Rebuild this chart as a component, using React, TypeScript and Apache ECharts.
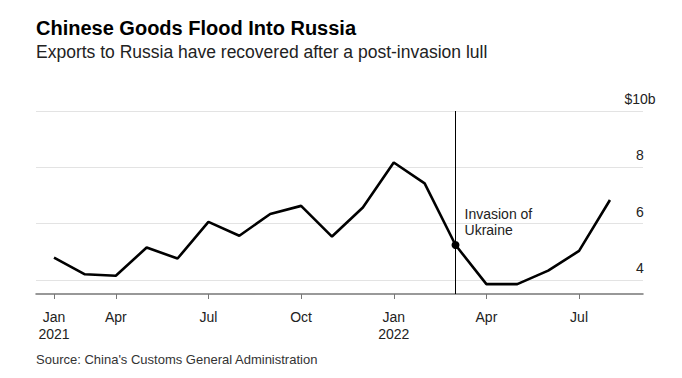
import React, { useEffect, useRef } from "react";
import * as echarts from "echarts";

const months = [
  "Jan 2021", "Mar 2021", "Apr 2021", "May 2021", "Jun 2021", "Jul 2021",
  "Aug 2021", "Sep 2021", "Oct 2021", "Nov 2021", "Dec 2021", "Jan 2022",
  "Feb 2022", "Mar 2022", "Apr 2022", "May 2022", "Jun 2022", "Jul 2022", "Aug 2022",
];
const exportsBn = [
  4.79, 4.2, 4.15, 5.15, 4.76, 6.06, 5.57, 6.34, 6.63, 5.54, 6.57, 8.17,
  7.43, 5.24, 3.85, 3.85, 4.33, 5.03, 6.84,
];
const tickIndices = [0, 2, 5, 8, 11, 14, 17];
const tickLabels = ["Jan\n2021", "Apr", "Jul", "Oct", "Jan\n2022", "Apr", "Jul"];
const yTicks = [4, 6, 8, 10];
const invasionIndex = 13;
const invasionLabel = "Invasion of\nUkraine";

const FONT = "'Liberation Sans', Arial, sans-serif";

export default function App() {
  const ref = useRef<HTMLDivElement>(null);
  useEffect(() => {
    if (!ref.current) return;
    const chart = echarts.init(ref.current, null, { renderer: "svg" });
    const data = exportsBn.map((v, i) => [i, v]);
    chart.setOption({
      animation: false,
      backgroundColor: "#ffffff",
      textStyle: { fontFamily: FONT },
      title: [
        {
          text: "Chinese Goods Flood Into Russia",
          left: 36,
          top: 16,
          padding: 0,
          textStyle: { fontFamily: FONT, fontSize: 20, fontWeight: "bold", color: "#000", lineHeight: 24 },
        },
        {
          text: "Exports to Russia have recovered after a post-invasion lull",
          left: 36,
          top: 41,
          padding: 0,
          textStyle: { fontFamily: FONT, fontSize: 17.5, fontWeight: "normal", color: "#222", lineHeight: 22 },
        },
        {
          text: "Source: China's Customs General Administration",
          left: 36,
          top: 351,
          padding: 0,
          textStyle: { fontFamily: FONT, fontSize: 13, fontWeight: "normal", color: "#333", lineHeight: 16 },
        },
      ],
      grid: { left: 36, right: 39, top: 111, bottom: 84 },
      xAxis: {
        type: "value",
        min: -0.583,
        max: 19.07,
        splitLine: { show: false },
        axisLine: { show: true, lineStyle: { color: "#777", width: 1.5 } },
        axisTick: {
          show: true,
          customValues: tickIndices,
          length: 5,
          lineStyle: { color: "#777", width: 1 },
        },
        axisLabel: {
          customValues: tickIndices,
          formatter: (v: number) => {
            const k = tickIndices.indexOf(Math.round(v));
            return k >= 0 ? tickLabels[k] : "";
          },
          fontFamily: FONT,
          fontSize: 14,
          color: "#222",
          lineHeight: 17,
          margin: 14,
        },
      },
      yAxis: {
        type: "value",
        position: "right",
        min: 3.5,
        max: 10,
        axisLine: { show: false },
        axisTick: { show: false, customValues: yTicks },
        splitLine: { show: true, lineStyle: { color: "#e3e3e3", width: 1 } },
        axisLabel: {
          customValues: yTicks,
          inside: true,
          align: "center",
          verticalAlign: "bottom",
          margin: 3,
          padding: [0, 0, 5, 0],
          formatter: (v: number) => (v === 10 ? "$10b" : String(v)),
          fontFamily: FONT,
          fontSize: 14,
          color: "#222",
        },
      },
      series: [
        {
          type: "line",
          data,
          showSymbol: false,
          symbol: "none",
          lineStyle: { color: "#000", width: 2.6 },
          z: 3,
          markLine: {
            silent: true,
            symbol: "none",
            label: { show: false },
            lineStyle: { color: "#000", width: 1, type: "solid" },
            data: [{ xAxis: invasionIndex }],
            z: 2,
          },
          markPoint: {
            silent: true,
            symbol: "circle",
            symbolSize: 8,
            itemStyle: { color: "#000" },
            data: [{ coord: [invasionIndex, exportsBn[invasionIndex]] }],
            label: {
              show: true,
              position: "right",
              distance: 5,
              offset: [0, -23],
              formatter: invasionLabel,
              fontFamily: FONT,
              fontSize: 14,
              lineHeight: 16,
              color: "#222",
              align: "left",
            },
          },
        },
      ],
    });
    return () => chart.dispose();
  }, []);
  return (
    <div
      ref={ref}
      style={{ position: "absolute", left: 0, top: 0, width: 682, height: 378 }}
    />
  );
}
